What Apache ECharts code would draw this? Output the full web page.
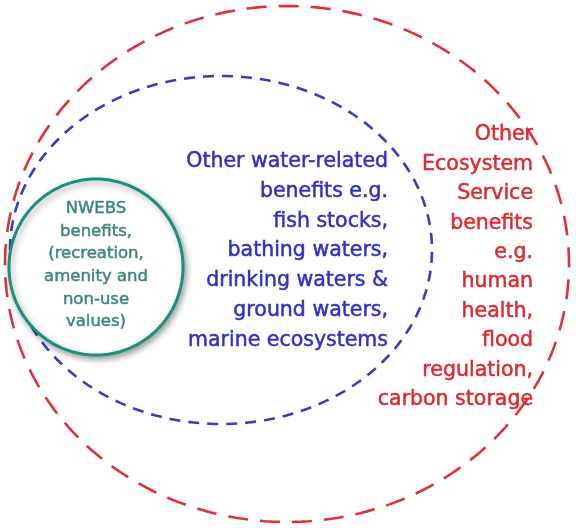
<!DOCTYPE html>
<html>
<head>
<meta charset="utf-8">
<script src="https://cdn.jsdelivr.net/npm/echarts@6/dist/echarts.min.js"></script>
<style>html,body{margin:0;padding:0;background:#fff;}#chart{width:576px;height:528px;}</style>
</head>
<body>
<div id="chart"></div>
<script>
// Nested benefit areas (diagram units = pixels of the 576x528 frame, y downward)
const areaNames = ['Other Ecosystem Service benefits', 'Other water-related benefits', 'NWEBS benefits'];
const areaCx = [287, 221, 96];
const areaCy = [264, 250, 267];
const areaRx = [282, 211, 87];
const areaRy = [258, 174, 88];

// Text blocks
const nwebsLines = ['NWEBS', 'benefits,', '(recreation,', 'amenity and', 'non-use', 'values)'];
const waterLines = ['Other water-related', 'benefits e.g.', 'fish stocks,', 'bathing waters,', 'drinking waters &', 'ground waters,', 'marine ecosystems'];
const ecoLines = ['Other', 'Ecosystem', 'Service', 'benefits', 'e.g.', 'human', 'health,', 'flood', 'regulation,', 'carbon storage'];
const labelAnchorX = [96, 388, 533];
const labelAnchorY = [209, 162, 135];

const areaStyles = [
  {stroke: '#e03236', lineWidth: 2.6, lineDash: [20, 12], fill: null},
  {stroke: '#3a3ac4', lineWidth: 2.6, lineDash: [11, 8], fill: null},
  {stroke: '#1b8f7e', lineWidth: 3, lineDash: null, fill: '#ffffff',
   shadowBlur: 6, shadowOffsetX: 2, shadowOffsetY: 3, shadowColor: 'rgba(0,0,0,0.35)'}
];
const labelStyles = [
  {color: '#3c867e', size: 16.5, lh: 22.6, align: 'center'},
  {color: '#3030c6', size: 20.5, lh: 29.7, align: 'right'},
  {color: '#dc2a30', size: 20.5, lh: 29.4, align: 'right'}
];
const labelSets = [nwebsLines, waterLines, ecoLines];

const chart = echarts.init(document.getElementById('chart'), null, {renderer: 'canvas'});

const areaData = areaNames.map((n, i) => ({name: n, value: [areaCx[i], areaCy[i], areaRx[i], areaRy[i]]}));
const labelData = labelSets.map((lines, i) => ({name: 'label' + i, value: [labelAnchorX[i], labelAnchorY[i], i]}));

chart.setOption({
  animation: false,
  backgroundColor: '#ffffff',
  grid: {left: 0, right: 0, top: 0, bottom: 0},
  xAxis: {type: 'value', min: 0, max: 576, show: false},
  yAxis: {type: 'value', min: 0, max: 528, inverse: true, show: false},
  series: [
    {
      type: 'custom',
      coordinateSystem: 'cartesian2d',
      data: areaData,
      renderItem: function (params, api) {
        const i = params.dataIndex;
        const cx = api.value(0), cy = api.value(1), rx = api.value(2), ry = api.value(3);
        const pts = [];
        const N = 240;
        for (let k = 0; k < N; k++) {
          const t = Math.PI - (k / N) * Math.PI * 2;
          pts.push(api.coord([cx + rx * Math.cos(t), cy - ry * Math.sin(t)]));
        }
        const s = areaStyles[i];
        const style = {stroke: s.stroke, lineWidth: s.lineWidth, fill: s.fill || 'none'};
        if (s.lineDash) style.lineDash = s.lineDash;
        if (s.shadowBlur) {
          style.shadowBlur = s.shadowBlur; style.shadowOffsetX = s.shadowOffsetX;
          style.shadowOffsetY = s.shadowOffsetY; style.shadowColor = s.shadowColor;
        }
        return {type: 'polygon', shape: {points: pts}, style: style, z2: i};
      }
    },
    {
      type: 'custom',
      coordinateSystem: 'cartesian2d',
      data: labelData,
      z: 5,
      renderItem: function (params, api) {
        const i = api.value(2);
        const p = api.coord([api.value(0), api.value(1)]);
        const st = labelStyles[i];
        const lines = labelSets[i];
        const children = lines.map((txt, k) => ({
          type: 'text',
          x: p[0],
          y: p[1] + k * st.lh,
          style: {
            text: txt,
            fill: st.color,
            stroke: st.color,
            lineWidth: 0.5,
            fontFamily: 'DejaVu Sans',
            fontSize: st.size,
            align: st.align,
            verticalAlign: 'middle'
          }
        }));
        return {type: 'group', children: children};
      }
    }
  ]
});
</script>
</body>
</html>
